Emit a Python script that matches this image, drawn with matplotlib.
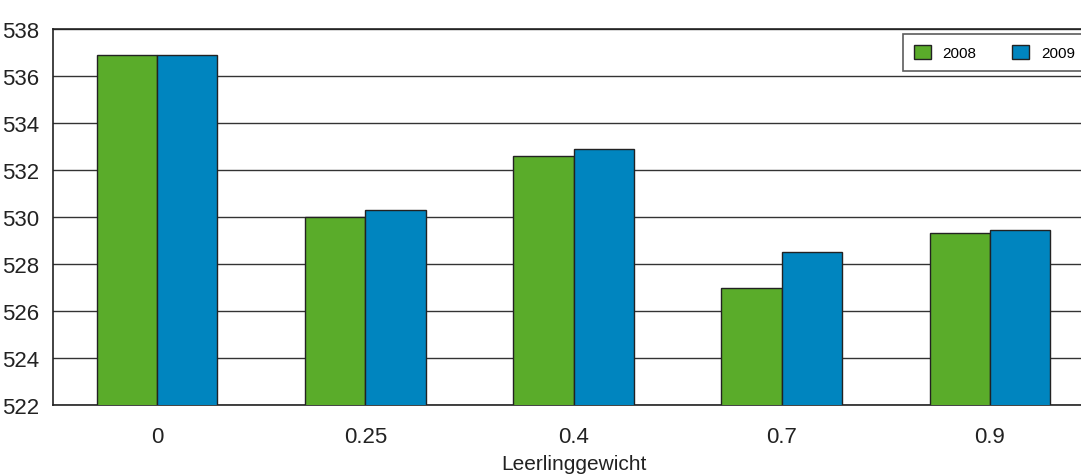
import numpy as np
import matplotlib
matplotlib.use("Agg")
import matplotlib.pyplot as plt
from matplotlib.patches import Patch

plt.rcParams['font.family'] = ['Liberation Sans Narrow', 'Liberation Sans', 'DejaVu Sans']

categories = ["0", "0.25", "0.4", "0.7", "0.9"]
years = ["2008", "2009"]
vals_2008 = [536.9, 530.0, 532.6, 527.0, 529.3]
vals_2009 = [536.9, 530.3, 532.9, 528.5, 529.45]
colors = ["#5aac2a", "#0085bf"]

fig = plt.figure(figsize=(10.81, 4.77), dpi=100)
ax = fig.add_axes([53/1081, 1-406/477, 1041/1081, 376/477])

x = np.arange(len(categories))
w = 0.29
ax.bar(x - w/2, vals_2008, w, color=colors[0], edgecolor="#222222", linewidth=1, zorder=3)
ax.bar(x + w/2, vals_2009, w, color=colors[1], edgecolor="#222222", linewidth=1, zorder=3)

ax.set_ylim(522, 538)
ax.set_xlim(-0.5, 4.5)
ax.set_yticks(np.arange(522, 539, 2))
ax.set_xticks(x)
ax.set_xticklabels(categories)
ax.yaxis.grid(True, color="#333333", linewidth=1)
ax.set_axisbelow(True)
ax.tick_params(length=0, labelsize=16, colors="#222222")
ax.tick_params(axis="y", pad=10)
ax.tick_params(axis="x", pad=15)
ax.spines["right"].set_visible(False)
for s in ["left", "top", "bottom"]:
    ax.spines[s].set_color("#222222")
    ax.spines[s].set_linewidth(1.2)
ax.set_xlabel("Leerlinggewicht", fontsize=15, color="#222222", labelpad=5)

handles = [Patch(facecolor=c, edgecolor="#222222") for c in colors]
leg = fig.legend(handles, years, loc="upper left", bbox_to_anchor=(903/1081, 1-35/477),
                 ncol=2, fontsize=11, frameon=True, fancybox=False, borderaxespad=0,
                 handlelength=1.1, handleheight=1.1, columnspacing=2.3, handletextpad=0.8,
                 borderpad=0.7)
leg.get_frame().set_edgecolor("#333333")
leg.get_frame().set_linewidth(1.2)

fig.savefig("out.png", dpi=100)
